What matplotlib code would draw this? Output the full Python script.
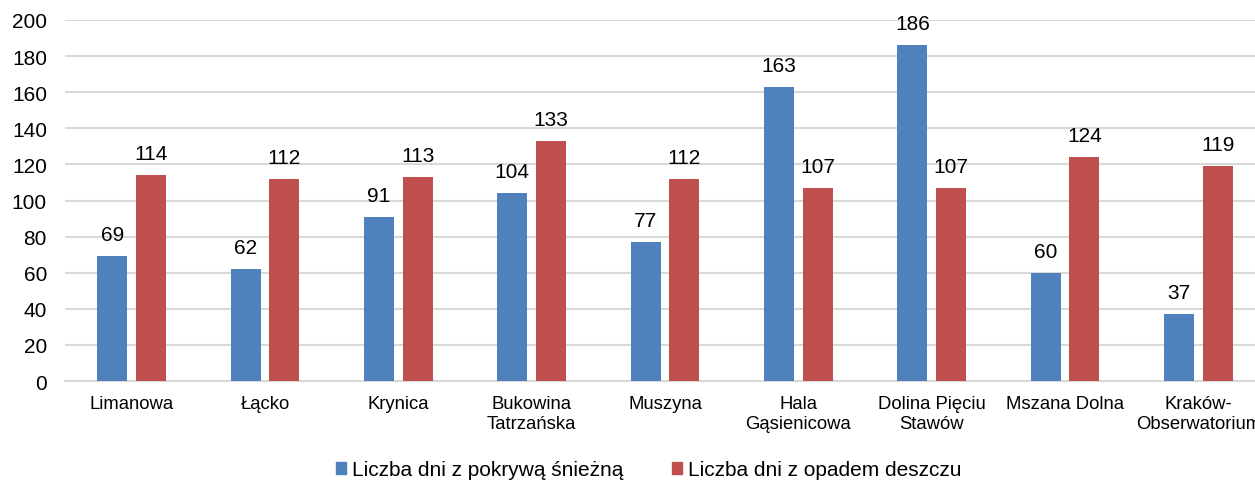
import numpy as np
import matplotlib.pyplot as plt
from matplotlib.patches import Patch

plt.rcParams['font.family'] = ['Liberation Sans', 'DejaVu Sans']

stations = ["Limanowa", "Łącko", "Krynica", "Bukowina\nTatrzańska", "Muszyna",
            "Hala\nGąsienicowa", "Dolina Pięciu\nStawów", "Mszana Dolna",
            "Kraków-\nObserwatorium"]
snow_days = [69, 62, 91, 104, 77, 163, 186, 60, 37]
rain_days = [114, 112, 113, 133, 112, 107, 107, 124, 119]
series_names = ["Liczba dni z pokrywą śnieżną", "Liczba dni z opadem deszczu"]

blue = "#4F81BD"
red = "#C0504D"

fig = plt.figure(figsize=(12.55, 4.81), dpi=100)
# plot area runs a little past the right edge, like the original
ax = fig.add_axes([65 / 1255, 1 - 382 / 481, 1200 / 1255, (382 - 21) / 481])

x = np.arange(len(stations))
w = 0.225
off = 0.145
b1 = ax.bar(x - off, snow_days, w, color=blue, zorder=3)
b2 = ax.bar(x + off, rain_days, w, color=red, zorder=3)

for bars, vals in [(b1, snow_days), (b2, rain_days)]:
    for r, v in zip(bars, vals):
        ax.annotate(str(v), (r.get_x() + r.get_width() / 2, v),
                    xytext=(0, 11.5), textcoords="offset points",
                    ha="center", va="baseline", fontsize=15)

ax.set_xlim(-0.5, len(stations) - 0.5)
ax.set_ylim(0, 200)
ax.set_yticks(range(0, 201, 20))
ax.yaxis.grid(True, color="#D9D9D9", linewidth=1.5, zorder=0)
ax.set_xticks(x)
ax.set_xticklabels(stations, fontsize=13.3, linespacing=1.25)
ax.tick_params(axis="y", labelsize=15, length=0, pad=13)
ax.tick_params(axis="x", length=0, pad=10)
for s in ["top", "right", "left"]:
    ax.spines[s].set_visible(False)
ax.spines["bottom"].set_color("#D9D9D9")
ax.spines["bottom"].set_linewidth(1.5)

handles = [Patch(color=blue), Patch(color=red)]
fig.legend(handles, series_names, loc="center", bbox_to_anchor=(0.517, 0.021),
           ncol=2, frameon=False, fontsize=15, handlelength=0.5,
           handleheight=0.5, handletextpad=0.3, columnspacing=2.3,
           borderpad=0, borderaxespad=0)

fig.savefig("out.png", dpi=100)
